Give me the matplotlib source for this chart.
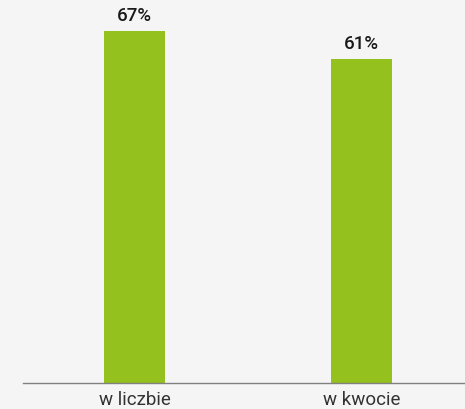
import matplotlib.pyplot as plt
import numpy as np

categories = ['w liczbie', 'w kwocie']
values = [66.6, 61.4]

plt.rcParams['font.family'] = ['Roboto', 'DejaVu Sans']

fig = plt.figure(figsize=(4.65, 4.1), dpi=100, facecolor='#f5f5f5')
ax = fig.add_axes([23 / 465, 26 / 410, 442 / 465, 384 / 410])
ax.set_facecolor('#f5f5f5')

x = np.arange(len(categories))
ax.bar(x, values, 0.269, color='#95c11f')

for xi, v in zip(x, values):
    ax.annotate('%d%%' % round(v), (xi, v), xytext=(0, 5), textcoords='offset points',
                ha='center', va='bottom', fontsize=13.5, fontweight='medium', color='#1a1a1a')

ax.set_xlim(-0.491, 1.456)
ax.set_ylim(0, 72.7)
ax.set_xticks(x)
ax.set_xticklabels(categories, fontsize=13.5, color='#333333')
ax.tick_params(axis='x', length=0, pad=5)
ax.set_yticks([])
for s in ['top', 'right', 'left']:
    ax.spines[s].set_visible(False)
ax.spines['bottom'].set_color('#808080')
ax.spines['bottom'].set_linewidth(1)

fig.savefig('out.png', dpi=100, facecolor=fig.get_facecolor())
